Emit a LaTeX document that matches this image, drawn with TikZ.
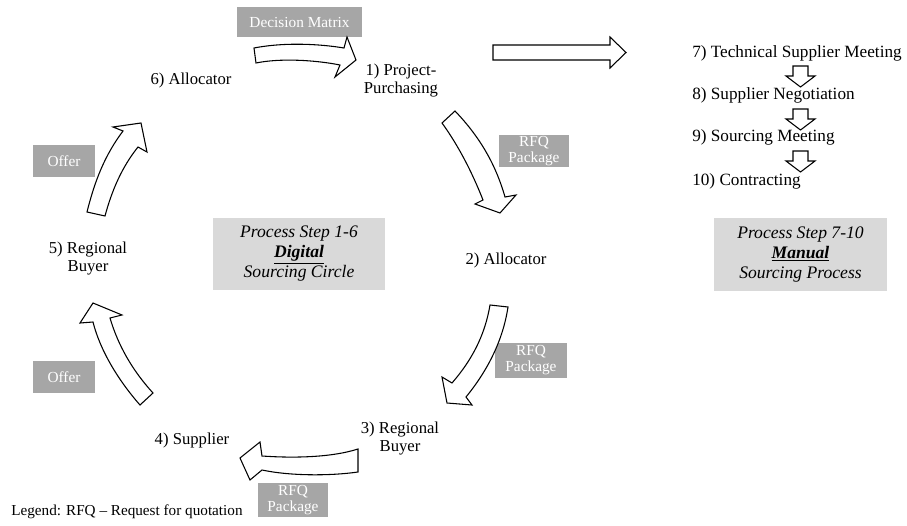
\documentclass[tikz,border=0pt]{standalone}
\usepackage{fontspec}
\setmainfont{Liberation Serif}
\usetikzlibrary{positioning}
\definecolor{tagGray}{HTML}{A6A6A6}
\definecolor{noteGray}{HTML}{D9D9D9}
\tikzset{
    steplabel/.style={align=center, inner sep=0pt, font=\fontsize{12.5}{13.5}\selectfont},
    tag/.style={fill=tagGray, text=white, align=center, inner sep=0pt, font=\fontsize{11.5}{12}\selectfont},
    note/.style={fill=noteGray, align=center, inner sep=0pt, font=\fontsize{13.2}{15}\selectfont\itshape},
    blockarrow/.style={draw, fill=white, line width=0.8pt, line join=miter},
}

\begin{document}
\begin{tikzpicture}[x=0.75pt, y=-0.75pt]
    \useasboundingbox (0,0) rectangle (907,525);

    % steps of the circle
    \node[steplabel] (s1) at (401,81) {1) Project-\\Purchasing};
    \node[steplabel] (s2) at (506,260) {2) Allocator};
    \node[steplabel] (s3) at (400,439) {3) Regional\\Buyer};
    \node[steplabel] (s4) at (192,440) {4) Supplier};
    \node[steplabel] (s5) at (88,259) {5) Regional\\Buyer};
    \node[steplabel] (s6) at (191,80) {6) Allocator};

    % manual steps
    \node[steplabel, anchor=west, font=\fontsize{12.9}{13.5}\selectfont] (s7) at (692,53) {7) Technical Supplier Meeting};
    \node[steplabel, anchor=west, font=\fontsize{12.9}{13.5}\selectfont] (s8) at (692,95) {8) Supplier Negotiation};
    \node[steplabel, anchor=west, font=\fontsize{12.9}{13.5}\selectfont] (s9) at (692,137) {9) Sourcing Meeting};
    \node[steplabel, anchor=west, font=\fontsize{12.9}{13.5}\selectfont] (s10) at (692,181) {10) Contracting};

    % grey tags
    \node[tag, minimum width=93.75pt, minimum height=22.5pt] (dm) at (299.5,22) {Decision Matrix};
    \node[tag, minimum width=52.5pt, minimum height=24pt] (rfq1) at (534,151) {RFQ\\Package};
    \node[tag, minimum width=54pt, minimum height=26pt] (rfq2) at (531,360.5) {RFQ\\Package};
    \node[tag, minimum width=52.5pt, minimum height=25.5pt] (rfq3) at (293,500) {RFQ\\Package};
    \node[tag, minimum width=46.5pt, minimum height=24pt] (offer1) at (64,161) {Offer};
    \node[tag, minimum width=46.5pt, minimum height=24.5pt] (offer2) at (64,377) {Offer};

    % summary boxes
    \node[note, minimum width=129pt, minimum height=54pt] (digital) at (299,254)
        {Process Step 1-6\\\underline{\textbf{Digital}}\\Sourcing Circle};
    \node[note, minimum width=129.75pt, minimum height=54.75pt] (manual) at (800.5,254.5)
        {Process Step 7-10\\\underline{\textbf{Manual}}\\Sourcing Process};

    \node[anchor=west, inner sep=0pt, font=\fontsize{11.4}{12}\selectfont] (legend) at (11,512)
        {Legend: RFQ -- Request for quotation};

    % curved arrows
    \draw[blockarrow] (254,48) .. controls (285,42) and (320,44) .. (344,48) -- (347,37) -- (356,60)
        -- (335,77) -- (340,65) .. controls (315,60) and (280,58) .. (256,63) -- cycle;
    \draw[blockarrow] (442,123) .. controls (458,145) and (472,172) .. (483,200) -- (475,204) -- (500,213)
        -- (516,195) -- (505,197) .. controls (495,162) and (478,135) .. (455,111) -- cycle;
    \draw[blockarrow] (490,305) .. controls (485,335) and (472,360) .. (452,383) -- (442,377) -- (447,403)
        -- (472,405) -- (466,397) .. controls (488,370) and (503,340) .. (508,307) -- cycle;
    \draw[blockarrow] (358,449) .. controls (330,458) and (290,458) .. (262,456) -- (260,442) -- (240,458)
        -- (250,480) -- (262,470) .. controls (290,476) and (330,476) .. (358,472) -- cycle;
    \draw[blockarrow] (140,405) .. controls (118,380) and (100,350) .. (93,322) -- (80,323) -- (93,303)
        -- (122,315) -- (110,318) .. controls (118,345) and (132,370) .. (153,393) -- cycle;
    \draw[blockarrow] (87,212) .. controls (95,180) and (105,155) .. (123,131) -- (113,127) -- (141,123)
        -- (147,152) -- (138,147) .. controls (122,167) and (112,190) .. (105,216) -- cycle;

    % straight arrow to the manual part
    \draw[blockarrow] (493,45) -- (610,45) -- (610,37) -- (626,52.5) -- (610,68) -- (610,60) -- (493,60) -- cycle;

    % small arrows between manual steps
    \foreach \y in {66,109,151}
        \draw[blockarrow, shift={(800.5,\y)}] (-7.5,0) -- (7.5,0) -- (7.5,10) -- (14.5,10)
            -- (0,21) -- (-14.5,10) -- (-7.5,10) -- cycle;
\end{tikzpicture}
\end{document}
